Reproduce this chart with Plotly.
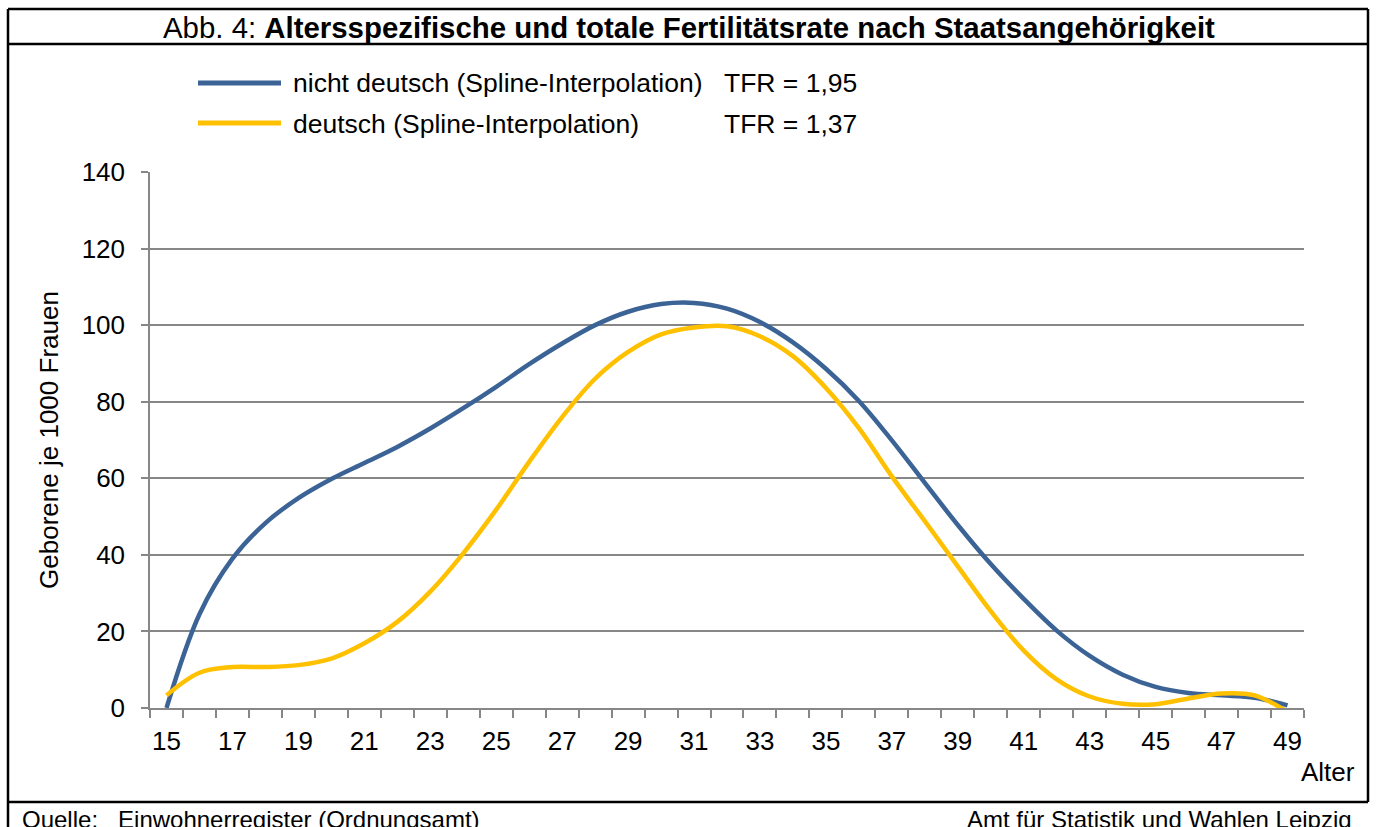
import plotly.graph_objects as go

# ---- data ----
ages = list(range(15, 50))
nicht_deutsch = [0.0, 24.5, 39.0, 48.3, 54.8, 59.8, 64.0, 68.2, 73.0, 78.3,
                 83.9, 89.8, 95.2, 100.0, 103.5, 105.5, 105.8, 104.3, 100.8, 95.5,
                 88.6, 80.2, 69.9, 58.8, 47.8, 37.6, 28.5, 20.2, 13.6, 8.7,
                 5.5, 3.9, 3.3, 2.7, 0.7]
deutsch = [3.3, 9.2, 10.7, 10.7, 11.2, 12.9, 16.9, 22.5, 30.4, 40.4,
           51.8, 64.3, 76.0, 86.0, 93.0, 97.6, 99.4, 99.7, 97.1, 91.9,
           83.6, 73.1, 60.5, 48.8, 37.0, 25.3, 15.0, 7.5, 3.0, 1.1,
           1.0, 2.5, 3.8, 3.3, -1.0]
series_names = ["nicht deutsch (Spline-Interpolation)", "deutsch (Spline-Interpolation)"]
tfr_labels = ["TFR = 1,95", "TFR = 1,37"]
colors = ["#3B6396", "#FFC000"]
x_tick_labels = [str(a) for a in range(15, 50, 2)]

# ---- geometry helpers (pixel -> paper) ----
W, H = 1376, 827
L, R, T, B = 150, 1304, 172, 708


def px(x):
    return (x - L) / (R - L)


def py(y):
    return (B - y) / (B - T)


FONT = "Liberation Sans, Arial, sans-serif"
GRID = "#878787"

fig = go.Figure()
for name, vals, col in zip(series_names, [nicht_deutsch, deutsch], colors):
    fig.add_trace(go.Scatter(
        x=ages, y=vals, name=name, mode="lines",
        line=dict(color=col, width=4.5, shape="spline", smoothing=1.0),
        showlegend=False,
    ))

shapes = []
# outer frame
shapes.append(dict(type="line", xref="paper", yref="paper", x0=px(8), x1=px(8), y0=py(9), y1=py(840),
                   line=dict(color="black", width=2.5)))
shapes.append(dict(type="line", xref="paper", yref="paper", x0=px(1368), x1=px(1368), y0=py(9), y1=py(802),
                   line=dict(color="black", width=2.5)))
shapes.append(dict(type="line", xref="paper", yref="paper", x0=px(8), x1=px(1368), y0=py(9), y1=py(9),
                   line=dict(color="black", width=2.5)))
shapes.append(dict(type="line", xref="paper", yref="paper", x0=px(8), x1=px(1368), y0=py(44), y1=py(44),
                   line=dict(color="black", width=2.5)))
shapes.append(dict(type="line", xref="paper", yref="paper", x0=px(8), x1=px(1368), y0=py(802), y1=py(802),
                   line=dict(color="black", width=2.5)))
# legend samples
for i, col in enumerate(colors):
    yy = [83, 123][i]
    shapes.append(dict(type="line", xref="paper", yref="paper", x0=px(198), x1=px(281), y0=py(yy), y1=py(yy),
                       line=dict(color=col, width=5)))

annotations = []
annotations.append(dict(xref="paper", yref="paper", x=px(689), y=py(28), xanchor="center", yanchor="middle",
                        text="Abb. 4: <b>Altersspezifische und totale Fertilitätsrate nach Staatsangehörigkeit</b>",
                        showarrow=False, font=dict(size=29.4, color="black", family=FONT)))
for i, (nm, tfr) in enumerate(zip(series_names, tfr_labels)):
    yy = [83, 124][i]
    annotations.append(dict(xref="paper", yref="paper", x=px(291), y=py(yy), xanchor="left", yanchor="middle",
                            text=nm, showarrow=False, font=dict(size=26.5, color="black", family=FONT)))
    annotations.append(dict(xref="paper", yref="paper", x=px(722), y=py(yy), xanchor="left", yanchor="middle",
                            text=tfr, showarrow=False, font=dict(size=26.5, color="black", family=FONT)))
annotations.append(dict(xref="paper", yref="paper", x=px(1357), y=py(772), xanchor="right", yanchor="middle",
                        text="Alter", showarrow=False, font=dict(size=26, color="black", family=FONT)))
annotations.append(dict(xref="paper", yref="paper", x=px(20), y=py(804), xanchor="left", yanchor="top",
                        text="Quelle:   Einwohnerregister (Ordnungsamt)", showarrow=False,
                        font=dict(size=24, color="black", family=FONT)))
annotations.append(dict(xref="paper", yref="paper", x=px(1354), y=py(804), xanchor="right", yanchor="top",
                        text="Amt für Statistik und Wahlen Leipzig", showarrow=False,
                        font=dict(size=24, color="black", family=FONT)))

fig.update_layout(
    width=W, height=H,
    margin=dict(l=L, r=W - R, t=T, b=H - B, pad=0),
    paper_bgcolor="white", plot_bgcolor="white",
    font=dict(family=FONT, color="black", size=26),
    shapes=shapes, annotations=annotations,
    showlegend=False,
)
fig.update_xaxes(
    type="linear", range=[14.5, 49.5],
    tickmode="array", tickvals=list(range(15, 50, 2)), ticktext=x_tick_labels,
    ticks="", showgrid=False, zeroline=False,
    showline=True, linecolor=GRID, linewidth=1.5,
    tickfont=dict(size=26, family=FONT, color="black"),
    ticklabelstandoff=9,
    minor=dict(ticks="outside", tick0=14.5, dtick=1, ticklen=8, tickcolor=GRID, tickwidth=1.5, showgrid=False),
)
fig.update_yaxes(
    range=[0, 140], dtick=20, tick0=0,
    showgrid=True, gridcolor=GRID, gridwidth=1.5, zeroline=False,
    showline=True, linecolor=GRID, linewidth=1.5,
    ticks="outside", ticklen=7, tickcolor=GRID, tickwidth=1.5,
    tickfont=dict(size=26, family=FONT, color="black"),
    ticklabelstandoff=11,
    title=dict(text="Geborene je 1000 Frauen", font=dict(size=26, family=FONT, color="black"), standoff=16),
)

fig.write_html("out.html", config={"displayModeBar": False},
               post_script="document.body.style.margin='0px';document.body.style.overflow='hidden';")
